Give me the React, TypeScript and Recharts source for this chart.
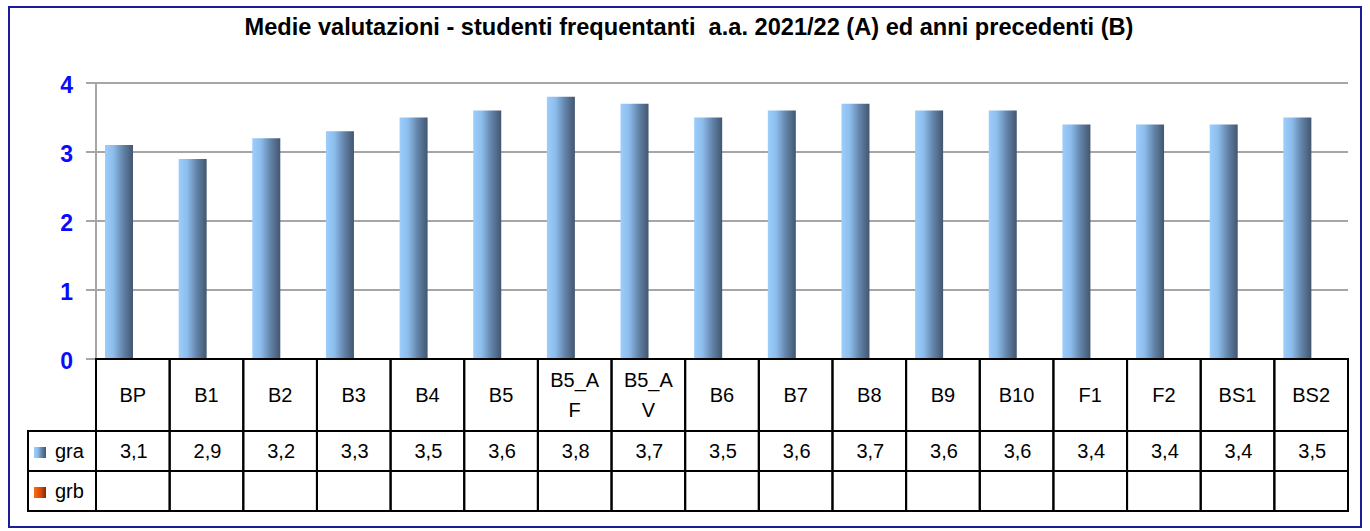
import { BarChart, Bar, XAxis, YAxis, CartesianGrid } from 'recharts';

const categories = ['BP', 'B1', 'B2', 'B3', 'B4', 'B5', 'B5_AF', 'B5_AV', 'B6', 'B7', 'B8', 'B9', 'B10', 'F1', 'F2', 'BS1', 'BS2'];
const graValues = [3.1, 2.9, 3.2, 3.3, 3.5, 3.6, 3.8, 3.7, 3.5, 3.6, 3.7, 3.6, 3.6, 3.4, 3.4, 3.4, 3.5];
const grbValues: (number | null)[] = categories.map(() => null);
const yTicks = [0, 1, 2, 3, 4];
const seriesNames = ['gra', 'grb'];

const data = categories.map((c, i) => ({ cat: c, gra: graValues[i], grb: grbValues[i] }));

const W = 1370;
const H = 531;
const PLOT_LEFT = 96;
const PLOT_RIGHT = 1348;
const PLOT_TOP = 83;
const PLOT_BOTTOM = 359;
const BAND = (PLOT_RIGHT - PLOT_LEFT) / categories.length;
const ROW1 = 72;
const ROW2 = 40;
const ROW3 = 40;
const LEGEND_W = 68;
const FONT = '"Liberation Sans", Arial, sans-serif';
const CELL_FONT = 20;

const fmt = (v: number | null) => (v == null ? '' : v.toFixed(1).replace('.', ','));

// draws one column of the data table under the plot
function TableTick(props: any) {
  const { x, y, payload, index } = props;
  const left = x - BAND / 2;
  const label: string = payload.value;
  const lines = label.length > 4 ? [label.slice(0, 4), label.slice(4)] : [label];
  const i = categories.indexOf(label);
  const txt = { fontFamily: FONT, fontSize: CELL_FONT, fill: '#000', textAnchor: 'middle' as const };
  return (
    <g>
      <rect x={left} y={y} width={BAND} height={ROW1 + ROW2 + ROW3} fill="none" stroke="#000" strokeWidth={2} />
      <line x1={left} x2={left + BAND} y1={y + ROW1} y2={y + ROW1} stroke="#000" strokeWidth={2} />
      <line x1={left} x2={left + BAND} y1={y + ROW1 + ROW2} y2={y + ROW1 + ROW2} stroke="#000" strokeWidth={2} />
      {lines.map((l, k) => (
        <text key={k} x={x} y={y + ROW1 / 2 + 7 + (k - (lines.length - 1) / 2) * 30} {...txt}>{l}</text>
      ))}
      <text x={x + 1} y={y + ROW1 + ROW2 / 2 + 7} {...txt}>{fmt(graValues[i])}</text>
      <text x={x + 1} y={y + ROW1 + ROW2 + ROW3 / 2 + 7} {...txt}>{fmt(grbValues[i])}</text>
      {index === 0 && (
        <g>
          <rect x={left - LEGEND_W} y={y + ROW1} width={LEGEND_W} height={ROW2 + ROW3} fill="none" stroke="#000" strokeWidth={2} />
          <line x1={left - LEGEND_W} x2={left} y1={y + ROW1 + ROW2} y2={y + ROW1 + ROW2} stroke="#000" strokeWidth={2} />
          {seriesNames.map((s, k) => (
            <g key={s}>
              <rect x={left - LEGEND_W + 6} y={y + ROW1 + k * ROW2 + 16} width={12} height={11} fill={k === 0 ? 'url(#gradA)' : 'url(#gradB)'} />
              <text x={left - LEGEND_W + 27} y={y + ROW1 + k * ROW2 + 27} fontFamily={FONT} fontSize={CELL_FONT} fill="#000">{s}</text>
            </g>
          ))}
        </g>
      )}
    </g>
  );
}

export default function App() {
  return (
    <div style={{ position: 'absolute', left: 0, top: 0, width: W, height: H, background: '#fff', fontFamily: FONT }}>
      <style>{'body{margin:0}'}</style>
      <div style={{ position: 'absolute', left: 8, top: 6, width: 1354, height: 522, border: '2px solid #1c1c96', boxSizing: 'border-box' }} />
      <div style={{ position: 'absolute', left: 0, top: 14, width: 1378, textAlign: 'center', fontWeight: 'bold', fontSize: 23.6, color: '#000' }}>
        Medie valutazioni - studenti frequentanti&nbsp; a.a. 2021/22 (A) ed anni precedenti (B)
      </div>
      <div style={{ position: 'absolute', left: 0, top: 0 }}>
        <BarChart
          width={W}
          height={H}
          data={data}
          margin={{ left: PLOT_LEFT - 60, right: W - PLOT_RIGHT, top: PLOT_TOP, bottom: H - PLOT_BOTTOM - 160 }}
          barGap={0}
          barSize={28}
        >
          <defs>
            <linearGradient id="gradA" x1="0" y1="0" x2="1" y2="0">
              <stop offset="0%" stopColor="#9ccdfb" />
              <stop offset="30%" stopColor="#8dbdec" />
              <stop offset="65%" stopColor="#6283a8" />
              <stop offset="100%" stopColor="#435670" />
            </linearGradient>
            <linearGradient id="gradB" x1="0" y1="0" x2="1" y2="0">
              <stop offset="0%" stopColor="#ff6a10" />
              <stop offset="60%" stopColor="#d04a0a" />
              <stop offset="100%" stopColor="#7a2a08" />
            </linearGradient>
          </defs>
          <CartesianGrid vertical={false} stroke="#a6a6a6" strokeWidth={2} />
          <YAxis
            width={60}
            domain={[0, 4]}
            ticks={yTicks}
            interval={0}
            stroke="#a6a6a6"
            strokeWidth={2}
            tickSize={10}
            tickMargin={13}
            tick={{ fill: '#0a0aff', fontSize: 23, fontWeight: 'bold', fontFamily: FONT, dy: 2 }}
          />
          <XAxis
            dataKey="cat"
            height={160}
            interval={0}
            axisLine={false}
            tickLine={false}
            tickSize={0}
            tickMargin={0}
            tick={<TableTick />}
          />
          <Bar dataKey="gra" fill="url(#gradA)" isAnimationActive={false} />
          <Bar dataKey="grb" fill="url(#gradB)" isAnimationActive={false} />
        </BarChart>
      </div>
    </div>
  );
}
